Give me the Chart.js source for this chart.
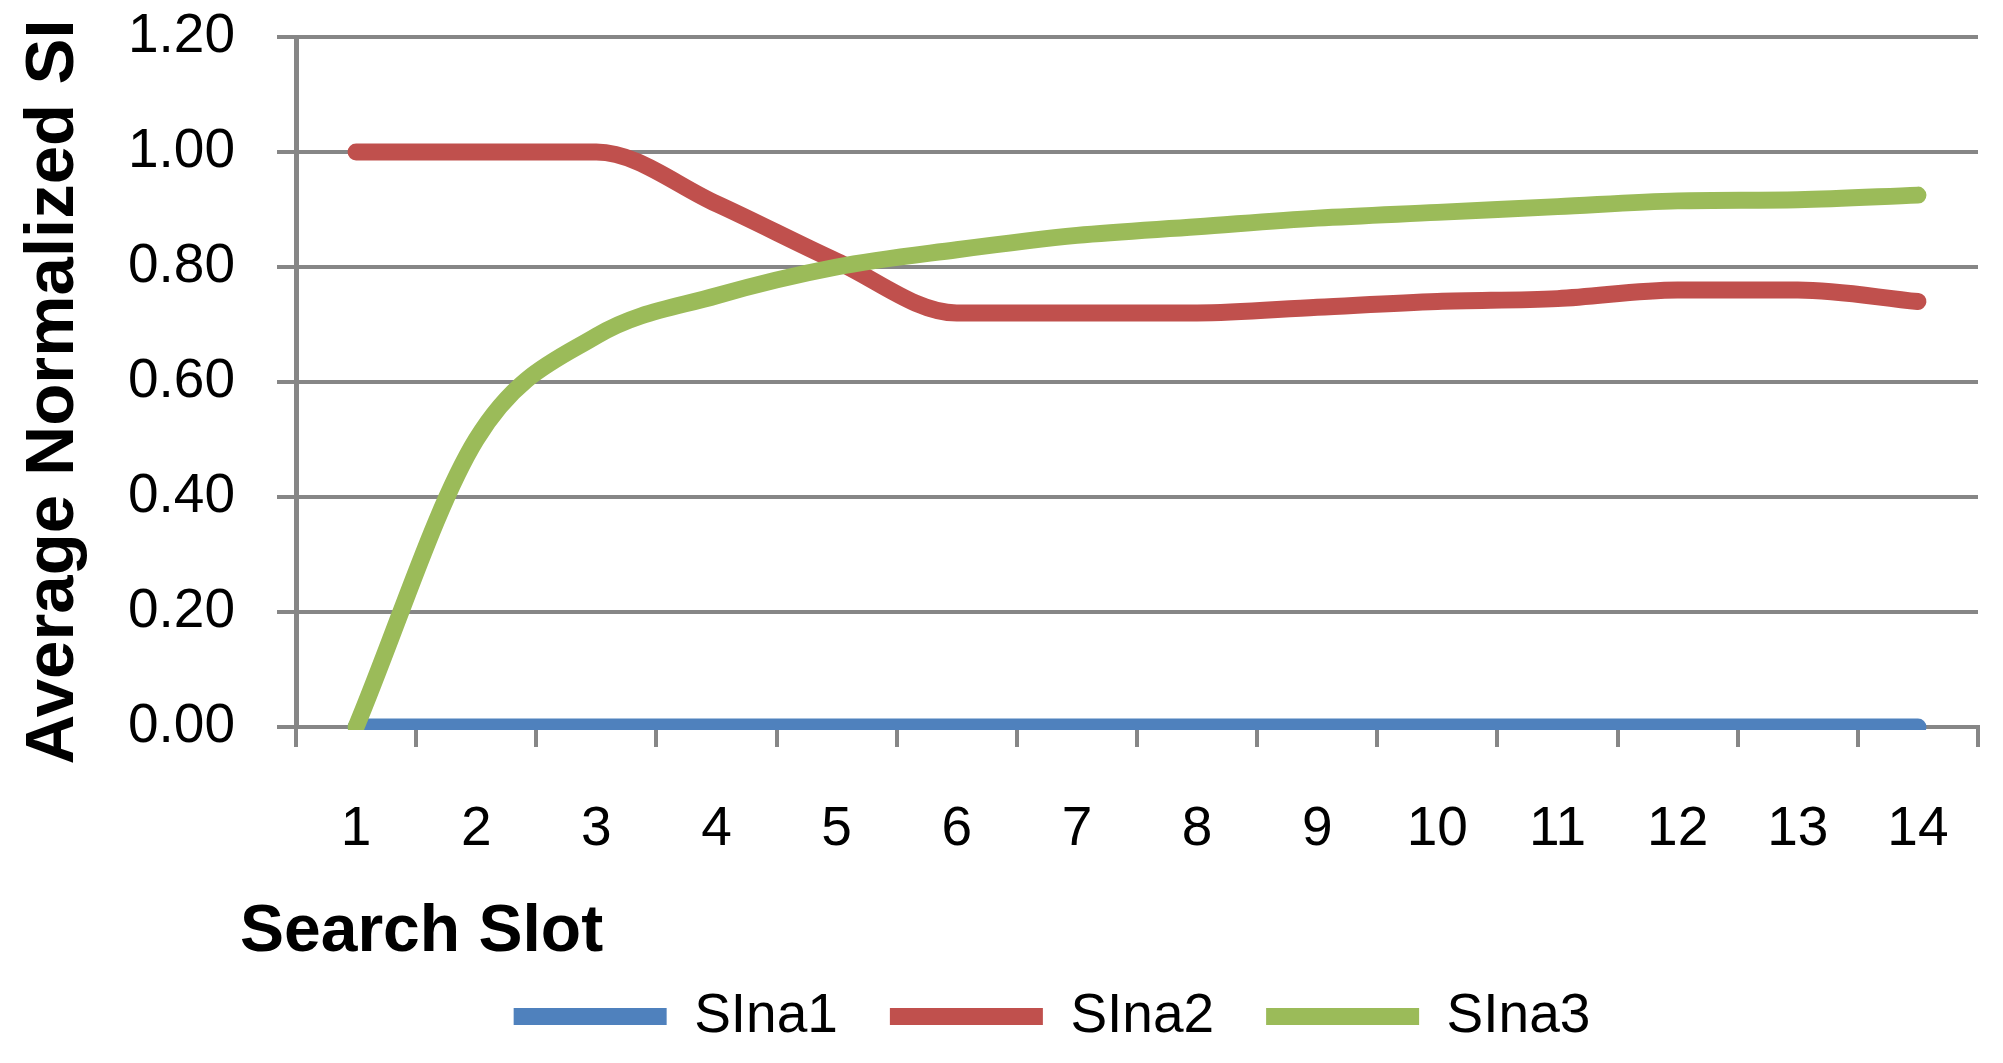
<!DOCTYPE html>
<html>
<head>
<meta charset="utf-8">
<title>Average Normalized SI</title>
<script src="https://cdn.jsdelivr.net/npm/chart.js@4.4.1/dist/chart.umd.min.js"></script>
<style>
    html, body { margin: 0; padding: 0; background: #fff; }
    #wrap { width: 2003px; height: 1063px; }
</style>
</head>
<body>
<div id="wrap"><canvas id="siChart" width="2003" height="1063"></canvas></div>
<script>
// Values
const slots = ['1', '2', '3', '4', '5', '6', '7', '8', '9', '10', '11', '12', '13', '14'];
const sina1 = [0, 0, 0, 0, 0, 0, 0, 0, 0, 0, 0, 0, 0, 0];
const sina2 = [1.00, 1.00, 1.00, 0.91, 0.81, 0.72, 0.72, 0.72, 0.73, 0.74, 0.745, 0.76, 0.76, 0.74];
const sina3 = [0.00, 0.50, 0.68, 0.75, 0.80, 0.83, 0.855, 0.87, 0.885, 0.895, 0.905, 0.915, 0.917, 0.925];
const seriesNames = ['SIna1', 'SIna2', 'SIna3'];

const colors = {
    blue: '#4F81BD',
    red: '#C0504D',
    green: '#9BBB59',
    grid: '#868686'
};

const tickFont = { family: "'Liberation Sans', Arial, sans-serif", size: 55 };
const xTitleFont = "bold 66px 'Liberation Sans', Arial, sans-serif";
const yTitleFont = "bold 69px 'Liberation Sans', Arial, sans-serif";

// Excel puts the axis titles off-centre, so draw them by hand
const axisTitles = {
    id: 'axisTitles',
    afterDraw(chart) {
        const ctx = chart.ctx;
        const area = chart.chartArea;
        ctx.save();
        ctx.fillStyle = '#000';
        ctx.textBaseline = 'alphabetic';
        ctx.textAlign = 'left';
        ctx.font = xTitleFont;
        ctx.fillText('Search Slot', area.left - 56, area.bottom + 224);

        ctx.font = yTitleFont;
        ctx.translate(73, (area.top + area.bottom) / 2 + 10);
        ctx.rotate(-Math.PI / 2);
        ctx.textAlign = 'center';
        ctx.fillText('Average Normalized SI', 0, 0);
        ctx.restore();
    }
};

// One thick smoothed line per series
const lineSeries = (label, data, color, order) => ({
    label: label,
    data: data,
    order: order,
    borderColor: color,
    backgroundColor: color,
    borderWidth: 17,
    borderCapStyle: 'round',
    borderJoinStyle: 'round',
    pointRadius: 0,
    pointHoverRadius: 0,
    cubicInterpolationMode: 'monotone',
    fill: false,
    clip: { left: 20, top: 20, right: 20, bottom: 3 }
});

const initChart = () => {
    const ctx = document.getElementById('siChart').getContext('2d');

    return new Chart(ctx, {
        type: 'line',
        data: {
            labels: slots,
            datasets: [
                lineSeries(seriesNames[0], sina1, colors.blue, 3),
                lineSeries(seriesNames[1], sina2, colors.red, 2),
                lineSeries(seriesNames[2], sina3, colors.green, 1)
            ]
        },
        options: {
            responsive: false,
            animation: false,
            devicePixelRatio: 1,
            events: [],
            layout: {
                padding: { left: 126, right: 25, top: 37, bottom: 9 }
            },
            scales: {
                x: {
                    offset: true,
                    afterFit: (scale) => { scale.height = 210; },
                    ticks: {
                        padding: 50,
                        color: '#000',
                        font: tickFont,
                        autoSkip: false,
                        maxRotation: 0
                    },
                    grid: {
                        offset: true,
                        drawOnChartArea: false,
                        drawTicks: true,
                        tickLength: 20,
                        color: colors.grid,
                        lineWidth: 4
                    },
                    border: { display: true, color: colors.grid, width: 4 }
                },
                y: {
                    min: 0,
                    max: 1.2,
                    afterFit: (scale) => {
                        scale.width = 170;
                        scale.paddingTop = 0;
                        scale.paddingBottom = 0;
                    },
                    ticks: {
                        stepSize: 0.2,
                        padding: 42,
                        color: '#000',
                        font: tickFont,
                        callback: (value) => value.toFixed(2)
                    },
                    grid: {
                        color: colors.grid,
                        lineWidth: 4,
                        drawTicks: true,
                        tickLength: 19
                    },
                    border: { display: true, color: colors.grid, width: 5 }
                }
            },
            plugins: {
                legend: {
                    position: 'bottom',
                    labels: {
                        usePointStyle: true,
                        pointStyle: 'line',
                        pointStyleWidth: 153,
                        font: tickFont,
                        color: '#000',
                        padding: 52,
                        sort: (a, b) => a.datasetIndex - b.datasetIndex
                    }
                },
                tooltip: { enabled: false },
                title: { display: false }
            }
        },
        plugins: [axisTitles]
    });
};

window.siChart = initChart();
</script>
</body>
</html>
